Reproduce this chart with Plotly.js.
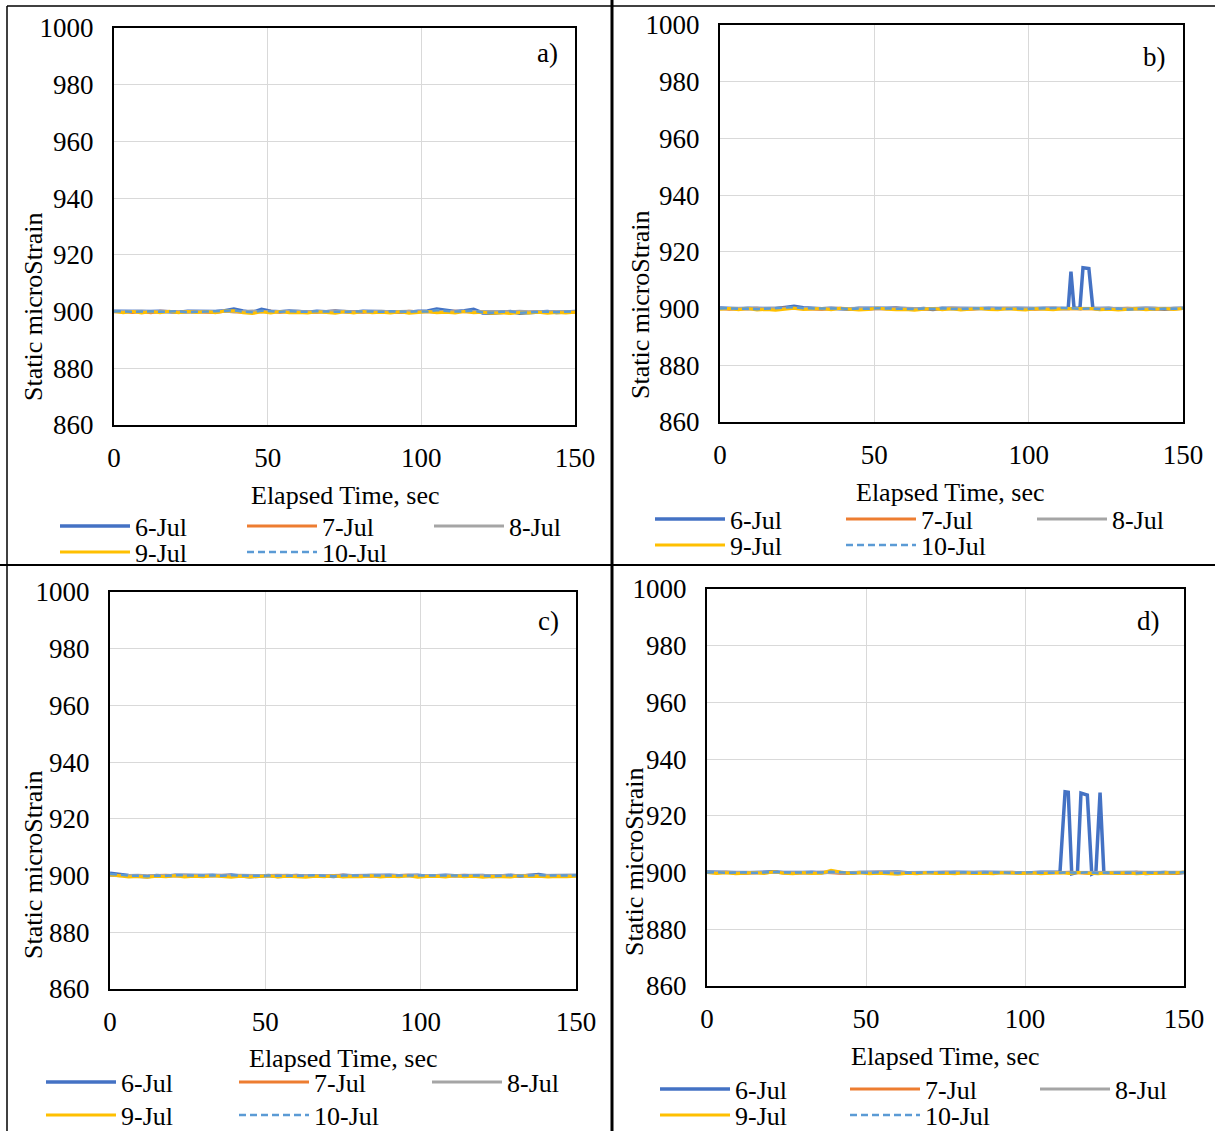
<!DOCTYPE html>
<html>
<head>
<meta charset="utf-8">
<script src="https://cdn.plot.ly/plotly-3.0.1.min.js"></script>
<style>
  html, body { margin: 0; padding: 0; background: #ffffff; overflow: hidden; }
  #chart { width: 1215px; height: 1131px; }
</style>
</head>
<body>
<div id="chart"></div>
<script>
// Static strain records for one gauge location, four test setups a) - d),
// five recording days each.

const seriesNames = ['6-Jul', '7-Jul', '8-Jul', '9-Jul', '10-Jul'];
const panelLabels = ['a)', 'b)', 'c)', 'd)'];
const xTickVals = [0, 50, 100, 150];
const yTickVals = [860, 880, 900, 920, 940, 960, 980, 1000];

// elapsed time, sec (shared sampling)
const timeSec = [0,3,6,9,12,15,18,21,24,27,30,33,36,39,42,45,48,51,54,57,60,63,66,69,72,75,78,81,84,87,90,93,96,99,102,105,108,111,114,117,120,123,126,129,132,135,138,141,144,147,150];

// ---- panel a)
const a_6Jul = [900.1,900.0,900.1,899.9,900.0,900.1,900.0,899.8,900.1,900.0, 900.1,900.0,900.3,900.9,900.2,899.7,900.8,900.1,899.9,900.2, 900.0,899.8,900.1,899.9,900.2,900.0,899.8,900.1,900.0,899.9, 900.1,900.0,899.8,900.1,900.2,900.9,900.4,900.0,900.3,900.8, 899.5,899.4,899.7,900.0,899.4,899.6,899.8,900.0,899.7,899.9, 900.0];
const a_7Jul = [899.9,900.0,899.7,900.0,899.6,900.1,900.0,899.8,900.0,899.9, 900.0,899.7,900.1,900.0,899.8,900.0,899.9,900.1,899.8,900.0, 899.9,900.0,899.8,900.0,900.1,899.9,900.0,899.8,900.0,899.9, 900.0,899.8,900.1,899.9,900.0,899.8,900.0,900.1,899.9,900.0, 899.8,900.0,899.9,899.7,900.0,899.8,899.9,900.0,899.7,899.9, 899.8];
const a_8Jul = [900.0,899.9,900.0,900.1,899.9,900.0,899.9,900.0,899.8,900.0, 899.9,900.0,900.1,899.9,900.0,900.2,899.9,900.0,899.9,900.0, 900.1,899.9,900.0,899.9,900.0,900.1,899.9,900.0,899.9,900.1, 899.9,900.0,900.1,899.9,900.0,899.9,900.0,899.9,900.1,900.0, 899.9,900.0,900.0,899.9,900.1,899.9,900.0,899.9,900.0,900.0, 899.9];
const a_9Jul = [900.0,899.6,900.0,899.5,900.0,899.6,900.1,899.6,900.0,899.7, 900.0,899.6,900.2,900.3,899.6,899.3,899.9,899.5,900.0,899.6, 899.7,899.5,899.9,899.6,899.4,899.9,899.5,900.0,899.6,899.8, 899.5,899.9,899.4,899.7,900.0,899.6,899.8,899.5,900.0,899.6, 899.8,899.4,899.6,899.3,899.7,899.5,899.8,899.4,899.7,899.5, 899.8];
const a_10Jul = [900.0,900.1,899.9,900.0,900.1,899.9,900.0,900.1,899.8,900.0, 900.0,900.1,900.2,900.4,900.0,899.8,900.3,900.0,899.9,900.1, 900.0,899.9,900.1,900.0,900.1,899.9,900.0,900.1,900.0,899.9, 900.1,900.0,899.9,900.1,900.0,900.5,900.2,900.0,900.1,900.3, 899.7,899.6,899.9,900.0,899.6,899.8,899.9,900.0,899.8,900.0, 900.1];

// ---- panel b)  (6-Jul has two short excursions near 114 s and 118 s)
const b_6JulTime = [0,3,6,9,12,15,18,21,24,27,30,33,36,39,42,45,48,51,54,57,60,63,66,69,72,75,78,81,84,87,90,93,96,99,102,105,108,111, 112.8,113.7,114.7,116.6,117.6,119.5,120.8, 123,126,129,132,135,138,141,144,147,150];
const b_6Jul = [900.2,900.0,899.9,900.1,900.0,900.2,900.0,900.4,900.8,900.3, 900.0,899.9,900.1,900.0,899.8,900.1,900.0,899.9,900.1,900.2, 900.0,899.8,900.0,899.7,900.1,900.0,899.9,900.1,900.0,900.1, 899.9,900.0,900.1,899.9,900.0,900.1,900.0,900.1, 900.0,913.0,900.2,900.0,914.4,914.1,900.1, 900.0,900.1,899.8,900.0,899.9,900.1,900.0,899.8,900.0,900.1];
const b_7Jul = [900.0,899.8,900.0,899.9,900.1,899.8,900.0,900.2,900.0,899.9, 900.0,899.8,900.0,900.1,899.9,900.0,899.8,900.0,899.9,900.1, 899.9,900.0,899.8,900.0,899.9,900.1,900.0,899.8,900.0,899.9, 900.0,900.1,899.9,900.0,899.8,900.0,900.1,899.9,900.0,899.9, 900.0,899.8,900.0,899.9,900.1,899.9,900.0,899.8,900.0,899.9, 900.0];
const b_8Jul = [899.9,900.0,900.1,899.9,900.0,899.9,900.1,900.0,900.2,900.0, 899.9,900.0,900.1,899.9,900.0,900.1,899.9,900.0,900.0,899.9, 900.1,900.0,899.9,900.0,900.1,899.9,900.0,900.0,899.9,900.1, 900.0,899.9,900.0,900.1,899.9,900.0,899.9,900.1,900.0,899.9, 900.1,900.0,899.9,900.0,900.0,899.9,900.1,900.0,899.9,900.0, 900.1];
const b_9Jul = [899.8,900.0,899.6,900.0,899.5,899.7,899.4,899.8,900.1,899.7, 899.9,900.0,899.6,900.1,899.8,899.5,899.7,900.2,899.8,899.6, 899.7,899.4,899.8,900.0,899.6,899.9,899.5,899.8,900.0,899.7, 899.6,899.9,899.7,899.5,899.9,899.8,899.6,899.9,900.0,900.1, 900.0,899.6,899.8,899.5,899.7,899.9,899.6,899.8,900.0,899.7, 900.0];
const b_10Jul = [900.0,900.1,899.9,900.0,899.8,900.0,900.1,900.3,900.5,900.1, 900.0,899.9,900.0,900.1,899.8,900.0,899.9,900.1,900.0,899.9, 900.0,899.8,900.0,899.9,900.1,900.0,899.8,900.0,899.9,900.0, 900.1,899.9,900.0,899.8,900.0,900.1,900.0,900.2,900.1,899.9, 900.0,899.8,899.9,900.0,899.7,899.9,900.0,899.8,900.0,899.9, 900.1];

// ---- panel c)
const c_6Jul = [900.8,900.3,900.0,899.8,899.6,900.0,899.8,900.1,900.0,899.8, 900.0,900.1,899.9,900.2,900.0,899.6,899.8,900.0,899.7,899.9, 900.0,899.8,900.0,899.9,899.7,900.1,899.9,900.0,899.8,900.0, 900.1,899.9,900.0,900.1,899.8,900.0,900.1,899.9,900.0,899.8, 900.0,899.7,899.9,900.1,899.8,900.0,900.4,899.9,900.0,899.8, 900.0];
const c_7Jul = [900.2,900.0,899.9,900.0,899.8,900.0,900.1,899.9,900.0,899.8, 900.0,899.9,900.1,900.0,899.8,900.0,899.9,900.0,900.1,899.9, 900.0,899.8,900.0,899.9,900.0,900.1,899.9,900.0,899.8,900.0, 899.9,900.0,900.1,899.9,900.0,899.8,900.0,899.9,900.1,900.0, 899.8,900.0,899.9,900.0,899.9,900.1,900.0,899.8,900.0,899.9, 900.0];
const c_8Jul = [900.1,899.9,900.0,900.1,899.9,900.0,899.9,900.0,900.1,900.0, 899.9,900.0,900.0,899.9,900.1,900.0,899.9,900.0,900.0,900.1, 899.9,900.0,900.1,900.0,899.9,900.0,900.0,899.9,900.1,900.0, 900.0,899.9,900.0,900.1,900.0,899.9,900.0,900.0,899.9,900.1, 900.0,899.9,900.0,900.0,900.1,899.9,900.0,900.0,899.9,900.0, 900.1];
const c_9Jul = [900.3,899.9,899.5,899.7,899.4,899.8,899.6,899.9,899.5,899.8, 899.6,899.9,899.7,899.4,899.8,899.5,899.7,899.9,899.5,899.8, 899.6,899.4,899.8,899.6,899.9,899.5,899.7,899.6,899.9,899.5, 899.8,899.6,899.9,899.4,899.7,899.8,899.5,899.9,899.6,899.8, 899.4,899.7,899.6,899.5,899.9,899.7,899.8,899.5,899.7,899.6, 899.8];
const c_10Jul = [900.6,900.2,900.0,899.9,899.8,900.0,899.9,900.1,900.0,899.9, 900.0,900.1,899.9,900.1,900.0,899.8,899.9,900.0,899.9,900.0, 899.9,900.0,900.1,899.9,899.8,900.0,900.0,899.9,900.0,900.1, 900.0,899.9,900.1,900.0,899.9,900.0,900.1,900.0,899.9,899.9, 900.0,899.8,900.0,900.1,899.9,900.0,900.2,900.0,899.9,900.0, 900.1];

// ---- panel d)  (6-Jul has three excursions between 112 s and 125 s)
const d_6JulTime = [0,3,6,9,12,15,18,21,24,27,30,33,36,39,42,45,48,51,54,57,60,63,66,69,72,75,78,81,84,87,90,93,96,99,102,105,108,111, 112.6,113.6,114.7,116.5,117.6,119.6,121,122.3,123.6,124.8, 126,129,132,135,138,141,144,147,150];
const d_6Jul = [900.2,900.1,900.0,900.1,899.9,900.0,900.1,900.3,900.0,899.9, 900.0,900.1,899.9,900.2,900.0,899.8,900.0,900.1,899.9,900.0, 900.2,899.9,900.0,900.1,899.9,900.0,900.1,899.9,900.0,900.1, 900.0,899.9,900.1,900.0,899.9,900.1,900.0,900.1, 928.5,928.3,899.6,900.1,928.0,927.3,899.5,900.2,928.2,900.0, 899.9,900.0,899.8,900.0,899.7,899.9,900.0,899.8,900.0];
const d_7Jul = [900.0,899.9,900.1,900.0,899.8,900.0,899.9,900.1,900.0,899.8, 900.0,899.9,900.1,900.0,899.8,900.0,899.9,900.0,900.1,899.9, 900.0,899.8,900.0,899.9,900.0,900.1,899.9,900.0,899.8,900.0, 899.9,900.0,900.1,899.9,900.0,899.8,900.0,899.9,900.1,900.0, 899.8,900.0,899.9,900.0,899.8,900.1,900.0,899.9,900.0,899.8, 900.0];
const d_8Jul = [900.1,900.0,899.9,900.0,900.1,899.9,900.0,900.1,899.9,900.0, 900.0,899.9,900.1,900.0,899.9,900.0,900.1,900.0,899.9,900.0, 900.1,899.9,900.0,900.0,899.9,900.1,900.0,899.9,900.0,900.1, 899.9,900.0,900.0,900.1,899.9,900.0,900.0,899.9,900.1,900.0, 899.9,900.0,900.1,900.0,899.9,900.0,900.0,900.1,899.9,900.0, 900.1];
const d_9Jul = [900.0,899.7,899.9,899.6,899.8,900.0,899.7,900.3,899.8,899.6, 899.9,899.7,899.8,900.8,900.2,899.7,899.9,899.6,899.8,899.5, 899.4,899.8,899.6,899.9,899.7,899.8,899.6,899.9,899.7,899.8, 899.6,899.9,899.8,899.7,899.9,899.6,899.8,899.9,899.7,900.0, 899.8,899.6,899.9,899.7,899.9,899.6,899.8,899.7,899.9,899.8, 900.2];
const d_10Jul = [900.0,900.1,899.9,900.0,900.1,899.9,900.0,900.2,900.0,899.9, 900.0,900.1,900.0,900.3,900.1,899.9,900.0,899.9,900.1,900.0, 899.8,900.0,899.9,900.1,900.0,899.9,900.0,900.1,899.9,900.0, 900.1,900.0,899.9,900.0,900.1,899.9,900.0,900.1,900.0,899.9, 900.1,899.8,900.0,899.9,900.0,899.8,900.0,899.9,900.1,900.0, 900.1];

// series per panel: [time, values] in day order
const panels = [
  [[timeSec, a_6Jul], [timeSec, a_7Jul], [timeSec, a_8Jul], [timeSec, a_9Jul], [timeSec, a_10Jul]],
  [[b_6JulTime, b_6Jul], [timeSec, b_7Jul], [timeSec, b_8Jul], [timeSec, b_9Jul], [timeSec, b_10Jul]],
  [[timeSec, c_6Jul], [timeSec, c_7Jul], [timeSec, c_8Jul], [timeSec, c_9Jul], [timeSec, c_10Jul]],
  [[d_6JulTime, d_6Jul], [timeSec, d_7Jul], [timeSec, d_8Jul], [timeSec, d_9Jul], [timeSec, d_10Jul]]
];

// ---------- styling ----------
const W = 1215, H = 1131;
const FONT = 'Liberation Serif, Times New Roman, serif';
const lineColors = ['#4472C4', '#ED7D31', '#A5A5A5', '#FFC000', '#5B9BD5'];
const lineDash = ['solid', 'solid', 'solid', 'solid', '7px,4px'];
const lineWidth = [3.5, 3, 3, 3, 2.5];

// plot-area boxes in pixels: [left, right, top, bottom]
const boxes = [
  [114, 575, 28, 425],
  [720, 1183, 25, 422],
  [110, 576, 592, 989],
  [707, 1184, 589, 986]
];
// legend rows: [symbol start x, row1 centre y, row2 centre y, entry width]
const legendPos = [
  [60, 526, 552, 102],
  [655, 519, 545, 106],
  [46, 1082, 1115, 108],
  [660, 1089, 1115, 105]
];
const xTitlePos = [[345, 495], [951, 492], [343, 1058], [945, 1056]];
const yTitlePos = [[33, 307], [640, 305], [33, 865], [634, 862]];
const labelPos = [[547, 53], [1154, 57], [548, 621], [1148, 621]];

const px = v => v / W;
const py = v => 1 - v / H;

const traces = [];
const layout = {
  width: W, height: H,
  margin: {l: 0, r: 0, t: 0, b: 0, pad: 0, autoexpand: false},
  paper_bgcolor: '#ffffff',
  plot_bgcolor: '#ffffff',
  font: {family: FONT, size: 26, color: '#000000'},
  showlegend: true,
  annotations: [],
  shapes: []
};

panels.forEach((series, p) => {
  const n = p === 0 ? '' : String(p + 1);
  const [l, r, t, b] = boxes[p];
  const legA = 'legend' + (p === 0 ? '' : String(2 * p + 1));
  const legB = 'legend' + String(2 * p + 2);

  series.forEach(([xs, ys], k) => {
    traces.push({
      type: 'scatter', mode: 'lines',
      x: xs, y: ys,
      name: seriesNames[k],
      xaxis: 'x' + n, yaxis: 'y' + n,
      legend: k < 3 ? legA : legB,
      line: {color: lineColors[k], width: lineWidth[k], dash: lineDash[k]},
      hoverinfo: 'x+y+name'
    });
  });

  const common = {
    showgrid: true, gridcolor: '#d9d9d9', gridwidth: 1,
    showline: true, mirror: true, linecolor: '#000000', linewidth: 2,
    zeroline: false, ticks: '', automargin: false,
    tickfont: {family: FONT, size: 27, color: '#000000'}
  };
  layout['xaxis' + n] = Object.assign({}, common, {
    domain: [px(l), px(r)], range: [0, 150],
    tickvals: xTickVals, ticklabelstandoff: 8,
    anchor: 'y' + n
  });
  layout['yaxis' + n] = Object.assign({}, common, {
    domain: [py(b), py(t)], range: [860, 1000],
    tickvals: yTickVals, ticklabelstandoff: 13,
    anchor: 'x' + n
  });

  const [lx, ly1, ly2, entryW] = legendPos[p];
  const legBase = {
    orientation: 'h', xanchor: 'left', yanchor: 'middle',
    bgcolor: 'rgba(0,0,0,0)', borderwidth: 0,
    font: {family: FONT, size: 26, color: '#000000'},
    itemwidth: 70, entrywidth: entryW, entrywidthmode: 'pixels',
    itemclick: false, itemdoubleclick: false
  };
  layout[legA] = Object.assign({}, legBase, {x: px(lx - 5), y: py(ly1)});
  layout[legB] = Object.assign({}, legBase, {x: px(lx - 5), y: py(ly2)});

  layout.annotations.push({
    xref: 'paper', yref: 'paper', showarrow: false,
    x: px(xTitlePos[p][0]), y: py(xTitlePos[p][1]),
    xanchor: 'center', yanchor: 'middle',
    text: 'Elapsed Time, sec', font: {family: FONT, size: 26, color: '#000000'}
  });
  layout.annotations.push({
    xref: 'paper', yref: 'paper', showarrow: false,
    x: px(yTitlePos[p][0]), y: py(yTitlePos[p][1]),
    xanchor: 'center', yanchor: 'middle', textangle: -90,
    text: 'Static microStrain', font: {family: FONT, size: 26, color: '#000000'}
  });
  layout.annotations.push({
    xref: 'paper', yref: 'paper', showarrow: false,
    x: px(labelPos[p][0]), y: py(labelPos[p][1]),
    xanchor: 'center', yanchor: 'middle',
    text: panelLabels[p], font: {family: FONT, size: 27, color: '#000000'}
  });
});

// frame lines separating the four panels
const frameLine = (x0, y0, x1, y1, w) => ({
  type: 'line', xref: 'paper', yref: 'paper', layer: 'above',
  x0: px(x0), y0: py(y0), x1: px(x1), y1: py(y1),
  line: {color: '#000000', width: w}
});
layout.shapes.push(frameLine(612, 0, 612, H, 3));
layout.shapes.push(frameLine(0, 565, W, 565, 2));
layout.shapes.push(frameLine(7, 6, 7, H, 1.5));
layout.shapes.push(frameLine(7, 6, W, 6, 1.5));

Plotly.newPlot('chart', traces, layout, {displayModeBar: false, staticPlot: true});
</script>
</body>
</html>
